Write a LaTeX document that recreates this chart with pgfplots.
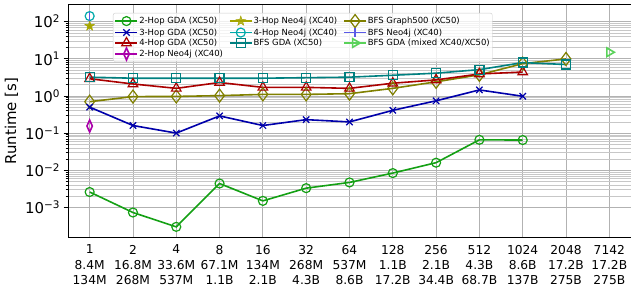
\documentclass[border=0pt]{standalone}
\usepackage{fontspec}
\setmainfont{DejaVu Sans}
\usepackage{pgfplots}
\pgfplotsset{compat=1.18}
\usetikzlibrary{plotmarks}

\definecolor{c2hop}{RGB}{20,160,20}
\definecolor{c3hop}{RGB}{0,0,170}
\definecolor{c4hop}{RGB}{170,0,0}
\definecolor{cnfour}{RGB}{0,170,170}
\definecolor{cntwo}{RGB}{170,0,170}
\definecolor{cnthree}{RGB}{165,165,0}
\definecolor{cbfs}{RGB}{0,128,128}
\definecolor{cgfive}{RGB}{128,128,0}
\definecolor{cneo}{RGB}{90,90,230}
\definecolor{cmix}{RGB}{90,210,90}

\pgfdeclareplotmark{fstar}{%
  \pgfpathmoveto{\pgfpointpolar{90}{\pgfplotmarksize}}%
  \pgfpathlineto{\pgfpointpolar{126}{0.4\pgfplotmarksize}}%
  \pgfpathlineto{\pgfpointpolar{162}{\pgfplotmarksize}}%
  \pgfpathlineto{\pgfpointpolar{198}{0.4\pgfplotmarksize}}%
  \pgfpathlineto{\pgfpointpolar{234}{\pgfplotmarksize}}%
  \pgfpathlineto{\pgfpointpolar{270}{0.4\pgfplotmarksize}}%
  \pgfpathlineto{\pgfpointpolar{306}{\pgfplotmarksize}}%
  \pgfpathlineto{\pgfpointpolar{342}{0.4\pgfplotmarksize}}%
  \pgfpathlineto{\pgfpointpolar{18}{\pgfplotmarksize}}%
  \pgfpathlineto{\pgfpointpolar{54}{0.4\pgfplotmarksize}}%
  \pgfpathclose
  \pgfusepathqfillstroke}

\begin{document}
\begin{tikzpicture}
\begin{axis}[
  at={(68bp,52bp)}, anchor=south west,
  scale only axis, width=566bp, height=232bp,
  ymode=log, xmin=-0.5, xmax=12.57, ymin=1.6e-4, ymax=280,
  xtick={0,...,12},
  xticklabels={{1\\8.4M\\134M},{2\\16.8M\\268M},{4\\33.6M\\537M},{8\\67.1M\\1.1B},{16\\134M\\2.1B},{32\\268M\\4.3B},{64\\537M\\8.6B},{128\\1.1B\\17.2B},{256\\2.1B\\34.4B},{512\\4.3B\\68.7B},{1024\\8.6B\\137B},{2048\\17.2B\\275B},{7142\\17.2B\\275B}},
  xticklabel style={align=center, font=\fontsize{12.3}{15.5}\selectfont},
  xtick style={draw=none},
  ytick={1e-3,1e-2,1e-1,1,10,100},
  yticklabels={10\textsuperscript{−3},10\textsuperscript{−2},10\textsuperscript{−1},10\textsuperscript{0},10\textsuperscript{1},10\textsuperscript{2}},
  yticklabel style={font=\fontsize{15}{18}\selectfont},
  ylabel={Runtime [s]},
  ylabel style={font=\fontsize{15}{18}\selectfont},
  tick align=outside,
  major tick length=4.5bp, minor tick length=2.5bp,
  every tick/.style={black, line width=0.7bp},
  grid=both,
  major grid style={color=black!30, line width=0.8bp},
  minor grid style={color=black!22, line width=0.6bp},
  axis line style={black, line width=1bp},
  legend columns=3,
  legend cell align=left,
  legend style={at={(0.0795,0.966)}, anchor=north west,
    font=\fontsize{8.5}{10}\selectfont, draw=black!20, fill=white,
    fill opacity=0.8, text opacity=1, rounded corners=2bp,
    inner sep=1.5bp, nodes={inner sep=1bp},
    /tikz/every even column/.append style={column sep=5bp}},
  legend image code/.code={\draw[mark repeat=2,mark phase=2,#1] plot coordinates {(0bp,0bp) (11bp,0bp) (22bp,0bp)};},
  every axis plot/.append style={line width=1.6bp, mark options={solid, line width=1.2bp, fill=none}},
]
% row 1
\addplot[c2hop, mark=o, mark size=4.5bp] coordinates {(0,0.0026)(1,0.00073)(2,0.0003)(3,0.0044)(4,0.0015)(5,0.0033)(6,0.0047)(7,0.0084)(8,0.016)(9,0.066)(10,0.065)};
\addlegendentry{2-Hop GDA (XC50)}
\addplot[cnthree, mark=fstar, mark size=5bp, mark options={fill=cnthree, line width=0.5bp}] coordinates {(0,76)};
\addlegendentry{3-Hop Neo4j (XC40)}
\addplot[cgfive, mark=diamond, mark size=6.5bp] coordinates {(0,0.70)(1,0.96)(2,0.97)(3,1.02)(4,1.1)(5,1.1)(6,1.15)(7,1.6)(8,2.4)(9,3.7)(10,7.4)(11,9.9)};
\addlegendentry{BFS Graph500 (XC50)}
% row 2
\addplot[c3hop, mark=x, mark size=4.5bp] coordinates {(0,0.5)(1,0.16)(2,0.10)(3,0.29)(4,0.16)(5,0.23)(6,0.20)(7,0.41)(8,0.74)(9,1.45)(10,0.98)};
\addlegendentry{3-Hop GDA (XC50)}
\addplot[cnfour, mark=o, mark size=4.5bp] coordinates {(0,141)};
\addlegendentry{4-Hop Neo4j (XC40)}
\addplot[cneo, mark=|, mark size=4.5bp] coordinates {(0,135)};
\addlegendentry{BFS Neo4j (XC40)}
% row 3
\addplot[c4hop, mark=triangle, mark size=5.5bp] coordinates {(0,2.9)(1,2.1)(2,1.6)(3,2.3)(4,1.7)(5,1.7)(6,1.6)(7,2.2)(8,2.7)(9,3.9)(10,4.4)};
\addlegendentry{4-Hop GDA (XC50)}
\addplot[cbfs, mark=square, mark size=4.5bp] coordinates {(0,3.2)(1,3.0)(2,3.0)(3,3.0)(4,3.0)(5,3.1)(6,3.2)(7,3.6)(8,4.1)(9,5.1)(10,7.9)(11,7.0)};
\addlegendentry{BFS GDA (XC50)}
\addplot[cmix, mark=triangle, mark size=5bp, mark options={rotate=-90}] coordinates {(12,15)};
\addlegendentry{BFS GDA (mixed XC40/XC50)}
% row 4
\addplot[cntwo, mark=diamond, mark size=6bp, mark options={xscale=0.6}] coordinates {(0,0.155)};
\addlegendentry{2-Hop Neo4j (XC40)}
\node[anchor=north east, align=left, font=\fontsize{12.3}{15.5}\selectfont, inner sep=0.333em, xshift=-3bp, yshift=-4.5bp] at (rel axis cs:0,0) {\#servers\\\#vertices\\\#edges};
\end{axis}
\pgfresetboundingbox
\path (0bp,0bp) rectangle (631bp,289bp);
\end{tikzpicture}
\end{document}
